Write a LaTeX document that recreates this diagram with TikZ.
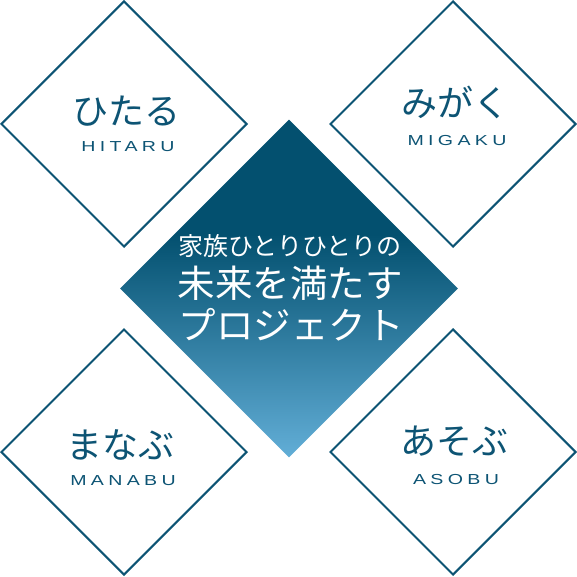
\documentclass[tikz,border=0pt]{standalone}
\usepackage{fontspec}
\usetikzlibrary{shapes.geometric}
\newfontfamily\jpfont{Noto Sans CJK JP}
\newfontfamily\subfont[FakeStretch=1.35,LetterSpace=30]{Liberation Sans}
\definecolor{navy}{HTML}{0D5474}
\definecolor{gdark}{HTML}{03506F}
\definecolor{glight}{HTML}{62AED7}
\pgfdeclareverticalshading{centregrad}{100bp}{color(0bp)=(glight); color(25bp)=(glight); color(58bp)=(gdark); color(100bp)=(gdark)}
\tikzset{
  framebox/.style={diamond, draw=navy, line width=2pt, minimum width=246pt, minimum height=246pt, inner sep=0pt},
  centrebox/.style={diamond, draw=none, minimum width=338pt, minimum height=338pt, inner sep=0pt, shading=centregrad},
  mainlabel/.style={anchor=base, inner sep=0pt, text=navy, font=\jpfont\fontsize{36}{36}\selectfont},
  sublabel/.style={anchor=base, inner sep=0pt, text=navy, font=\subfont\fontsize{14.5}{14.5}\selectfont},
  whitelabel/.style={anchor=base, inner sep=0pt, text=white}
}
\begin{document}
\begin{tikzpicture}[x=1pt,y=-1pt]
\useasboundingbox (0,0) rectangle (577,577);
\node[framebox] (tl) at (124,124) {};
\node[framebox] (tr) at (453,124) {};
\node[framebox] (bl) at (124,452) {};
\node[framebox] (br) at (453,452) {};
\node[centrebox] (c) at (289,288.5) {};
% corner labels
\node[mainlabel] (tlm) at (126,125) {ひたる};
\node[sublabel] (tls) at (128,152) {HITARU};
\node[mainlabel] (trm) at (455,117) {みがく};
\node[sublabel] (trs) at (457,146) {MIGAKU};
\node[mainlabel] (blm) at (120,458) {まなぶ};
\node[sublabel] (bls) at (123,485) {MANABU};
\node[mainlabel] (brm) at (454,454) {あそぶ};
\node[sublabel] (brs) at (456,484) {ASOBU};
% centre text
\node[whitelabel, font=\jpfont\fontsize{25}{25}\selectfont] (c1) at (290,255.5) {家族ひとりひとりの};
\node[whitelabel, font=\jpfont\fontsize{37.5}{37.5}\selectfont] (c2) at (290,297.5) {未来を満たす};
\node[whitelabel, font=\jpfont\fontsize{37.5}{37.5}\selectfont] (c3) at (291,339) {プロジェクト};
\end{tikzpicture}
\end{document}
